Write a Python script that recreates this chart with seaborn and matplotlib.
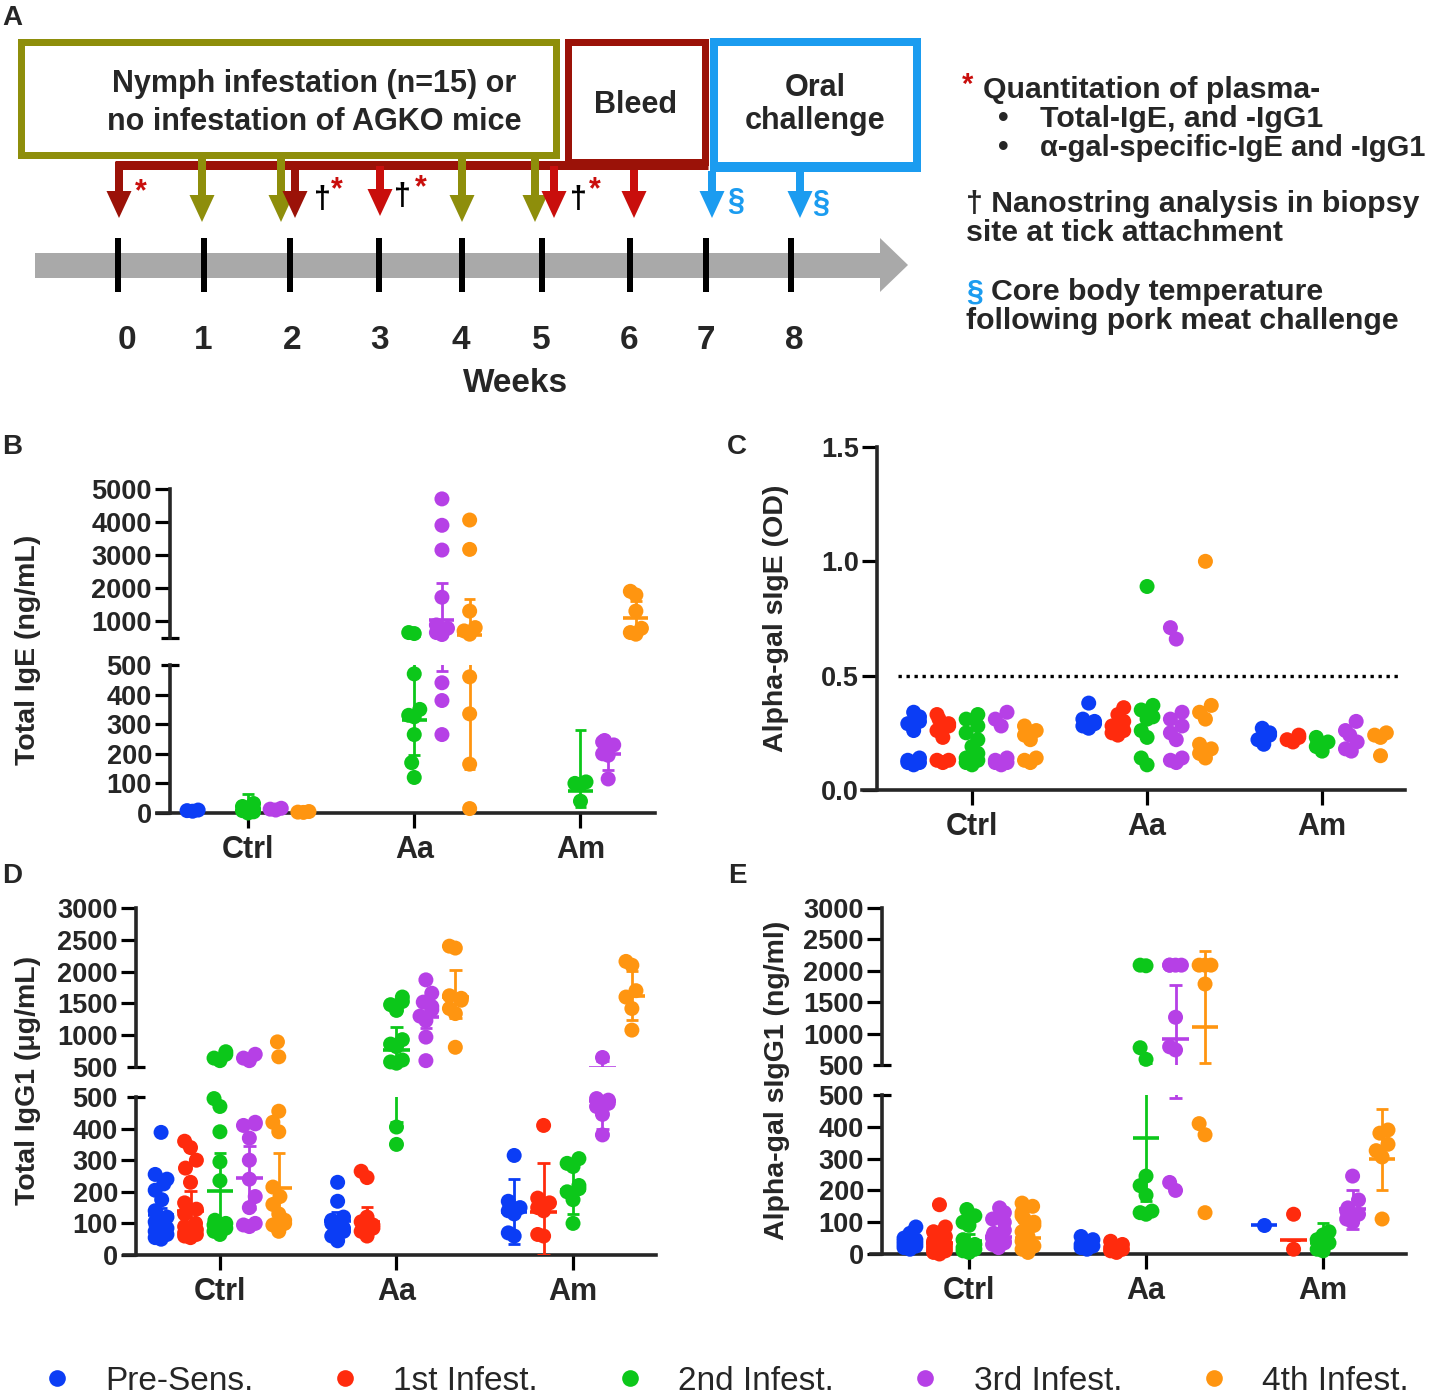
import warnings
warnings.filterwarnings("ignore")
import numpy as np
import pandas as pd
import matplotlib
matplotlib.use("Agg")
import matplotlib.pyplot as plt
from matplotlib.patches import Rectangle, Polygon, FancyArrow
from matplotlib.lines import Line2D
import seaborn as sns

# ---------------------------------------------------------------- data
GROUPS = ["Ctrl", "Aa", "Am"]
SERIES = ["Pre-Sens.", "1st Infest.", "2nd Infest.", "3rd Infest.", "4th Infest."]
COLORS = ["#0b3df5", "#ff2b0d", "#0cc71a", "#b640e6", "#ff9510"]

# Panel B : Total IgE (ng/mL)
IGE_PRE = {"Ctrl": [6, 8, 10], "Aa": [], "Am": []}
IGE_1ST = {"Ctrl": [], "Aa": [], "Am": []}
IGE_2ND = {"Ctrl": [0, 4, 8, 14, 22, 32],
           "Aa": [650, 620, 470, 350, 330, 325, 265, 170, 120],
           "Am": [105, 100, 95, 40]}
IGE_3RD = {"Ctrl": [10, 13, 16],
           "Aa": [4700, 3900, 3150, 1720, 880, 780, 650, 590, 440, 380, 265],
           "Am": [245, 240, 230, 200, 195, 115]}
IGE_4TH = {"Ctrl": [2, 3, 5],
           "Aa": [4060, 3170, 1300, 800, 700, 600, 460, 335, 165, 15],
           "Am": [1900, 1790, 1300, 780, 650, 600]}
IGE_BARS = [("Ctrl", "Pre-Sens.", 8, 8, 8), ("Ctrl", "2nd Infest.", 12, 0, 65),
            ("Ctrl", "3rd Infest.", 13, 13, 13), ("Ctrl", "4th Infest.", 3, 3, 3),
            ("Aa", "2nd Infest.", 315, 195, 520), ("Aa", "3rd Infest.", 1030, 480, 2150),
            ("Aa", "4th Infest.", 575, 150, 1670), ("Am", "2nd Infest.", 75, 20, 280),
            ("Am", "3rd Infest.", 198, 145, 250), ("Am", "4th Infest.", 1090, 630, 1600)]

# Panel C : Alpha-gal sIgE (OD)
SIGE_PRE = {"Ctrl": [0.34, 0.32, 0.30, 0.29, 0.26, 0.14, 0.13, 0.12, 0.11, 0.12],
            "Aa": [0.38, 0.31, 0.30, 0.29, 0.28, 0.27],
            "Am": [0.27, 0.25, 0.24, 0.22, 0.20]}
SIGE_1ST = {"Ctrl": [0.33, 0.31, 0.29, 0.28, 0.26, 0.23, 0.13, 0.12, 0.13],
            "Aa": [0.36, 0.33, 0.30, 0.28, 0.26, 0.25, 0.24],
            "Am": [0.24, 0.23, 0.22, 0.21]}
SIGE_2ND = {"Ctrl": [0.33, 0.31, 0.28, 0.25, 0.22, 0.19, 0.16, 0.14, 0.12, 0.11, 0.13],
            "Aa": [0.89, 0.37, 0.35, 0.32, 0.31, 0.26, 0.23, 0.14, 0.11],
            "Am": [0.23, 0.21, 0.19, 0.17]}
SIGE_3RD = {"Ctrl": [0.34, 0.31, 0.28, 0.14, 0.13, 0.12, 0.11, 0.12],
            "Aa": [0.71, 0.66, 0.34, 0.31, 0.28, 0.25, 0.22, 0.14, 0.13, 0.12],
            "Am": [0.30, 0.26, 0.24, 0.21, 0.18, 0.17]}
SIGE_4TH = {"Ctrl": [0.28, 0.26, 0.24, 0.22, 0.14, 0.13, 0.12],
            "Aa": [1.00, 0.37, 0.34, 0.31, 0.20, 0.18, 0.16, 0.14],
            "Am": [0.25, 0.24, 0.23, 0.15]}
SIGE_CUTOFF = 0.5

# Panel D : Total IgG1 (ug/mL)
IGG_PRE = {"Ctrl": [388, 255, 240, 225, 205, 175, 140, 120, 105, 95, 85, 75, 65, 55, 50],
           "Aa": [230, 170, 120, 110, 100, 95, 85, 75, 60, 45],
           "Am": [315, 170, 150, 140, 130, 70, 60]}
IGG_1ST = {"Ctrl": [360, 340, 300, 275, 230, 165, 145, 130, 100, 90, 80, 70, 65, 60, 55],
           "Aa": [265, 245, 120, 105, 95, 85, 75, 60],
           "Am": [410, 180, 165, 150, 140, 65, 60]}
IGG_2ND = {"Ctrl": [740, 700, 640, 600, 495, 470, 390, 295, 235, 110, 100, 95, 85, 75, 65],
           "Aa": [1600, 1530, 1480, 1390, 930, 860, 820, 610, 580, 560, 405, 350],
           "Am": [305, 290, 280, 220, 210, 200, 175, 100]}
IGG_3RD = {"Ctrl": [700, 640, 600, 420, 415, 410, 370, 300, 240, 185, 150, 100, 95, 90],
           "Aa": [1870, 1660, 1520, 1450, 1400, 1300, 1230, 970, 600],
           "Am": [665, 495, 490, 480, 470, 445, 380]}
IGG_4TH = {"Ctrl": [895, 660, 455, 420, 390, 215, 185, 160, 130, 110, 100, 95, 75],
           "Aa": [2400, 2370, 1620, 1580, 1550, 1420, 1340, 810],
           "Am": [2160, 2100, 1700, 1600, 1420, 1080]}
IGG_BARS = [("Ctrl", "Pre-Sens.", 127, 105, 150), ("Ctrl", "1st Infest.", 139, 76, 202),
            ("Ctrl", "2nd Infest.", 202, 85, 322), ("Ctrl", "3rd Infest.", 245, 145, 345),
            ("Ctrl", "4th Infest.", 213, 105, 322),
            ("Aa", "Pre-Sens.", 107, 80, 135), ("Aa", "1st Infest.", 105, 58, 152),
            ("Aa", "2nd Infest.", 775, 420, 1130), ("Aa", "3rd Infest.", 1290, 1110, 1470),
            ("Aa", "4th Infest.", 1600, 1265, 2030),
            ("Am", "Pre-Sens.", 137, 35, 242), ("Am", "1st Infest.", 137, 0, 290),
            ("Am", "2nd Infest.", 205, 130, 280), ("Am", "3rd Infest.", 486, 400, 600),
            ("Am", "4th Infest.", 1620, 1240, 2010)]

# Panel E : Alpha-gal sIgG1 (ng/ml)
SIGG_PRE = {"Ctrl": [85, 65, 50, 45, 40, 35, 30, 25, 20, 15],
            "Aa": [55, 45, 30, 25, 20, 15],
            "Am": [92]}
SIGG_1ST = {"Ctrl": [155, 85, 70, 55, 45, 40, 30, 25, 20, 15, 10, 5, 0],
            "Aa": [40, 30, 20, 15, 10, 5],
            "Am": [125, 15]}
SIGG_2ND = {"Ctrl": [140, 120, 100, 90, 45, 30, 20, 15, 10, 5],
            "Aa": [2090, 2080, 775, 590, 245, 215, 185, 135, 130, 125],
            "Am": [70, 60, 45, 35, 15, 10]}
SIGG_3RD = {"Ctrl": [145, 130, 110, 100, 75, 65, 55, 50, 40, 35, 30, 20],
            "Aa": [2090, 2090, 2090, 2090, 1260, 790, 740, 225, 200],
            "Am": [245, 170, 145, 135, 125, 110, 100]}
SIGG_4TH = {"Ctrl": [160, 150, 130, 120, 110, 100, 90, 70, 55, 40, 25, 15, 5],
            "Aa": [2090, 2090, 2090, 1790, 410, 375, 130],
            "Am": [390, 380, 345, 325, 305, 110]}
SIGG_BARS = [("Ctrl", "Pre-Sens.", 40, 30, 50), ("Ctrl", "1st Infest.", 35, 25, 45),
             ("Ctrl", "2nd Infest.", 42, 20, 62), ("Ctrl", "3rd Infest.", 55, 35, 80),
             ("Ctrl", "4th Infest.", 50, 30, 70),
             ("Aa", "2nd Infest.", 366, 168, 510), ("Aa", "3rd Infest.", 920, 490, 1770),
             ("Aa", "4th Infest.", 1105, 525, 2320),
             ("Am", "Pre-Sens.", 92, 92, 92), ("Am", "1st Infest.", 45, 45, 45),
             ("Am", "2nd Infest.", 35, 0, 97), ("Am", "3rd Infest.", 140, 80, 200),
             ("Am", "4th Infest.", 300, 200, 455)]

WEEKS = ["0", "1", "2", "3", "4", "5", "6", "7", "8"]

# ---------------------------------------------------------------- setup
W, H = 1433, 1394
sns.set_style("ticks")
plt.rcParams['font.family'] = ['Liberation Sans', 'DejaVu Sans']
plt.rcParams['axes.linewidth'] = 2.6

fig = plt.figure(figsize=(W / 100, H / 100), dpi=100)
fig.patch.set_facecolor("white")

ax_bg = fig.add_axes([0, 0, 1, 1])
ax_bg.set_xlim(0, W)
ax_bg.set_ylim(H, 0)
ax_bg.axis("off")
ax_bg.set_zorder(-1)

# categorical slots: each series occupies every second slot, groups 12 slots apart
SLOT_SERIES = 2
SLOT_GROUP = 12
n_slots = SLOT_GROUP * (len(GROUPS) - 1) + SLOT_SERIES * (len(SERIES) - 1) + 1
ORDER = [f"gap{i}" for i in range(n_slots)]
for gi, g in enumerate(GROUPS):
    for si, s in enumerate(SERIES):
        ORDER[gi * SLOT_GROUP + si * SLOT_SERIES] = f"{g}|{s}"
XT = [ORDER.index(f"{g}|{SERIES[2]}") for g in GROUPS]


def long_df(dicts):
    rows = []
    for s, d in zip(SERIES, dicts):
        for g in GROUPS:
            for v in d[g]:
                rows.append((f"{g}|{s}", s, v))
    return pd.DataFrame(rows, columns=["cat", "series", "val"])


def add_ax(x0, x1, ytop, ybot):
    ax = fig.add_axes([x0 / W, 1 - ybot / H, (x1 - x0) / W, (ybot - ytop) / H])
    ax.set_facecolor("none")
    return ax


def style_ax(ax, xlim, ylim, yticks, ylabels, bottom, off_px, hide_ticks=()):
    ax.set_xlim(*xlim)
    ax.set_ylim(*ylim)
    for s in ["top", "right"]:
        ax.spines[s].set_visible(False)
    ax.spines["left"].set_position(("outward", -off_px * 0.72))
    ax.spines["left"].set_linewidth(2.6)
    if bottom:
        ax.spines["bottom"].set_linewidth(2.6)
        ax.set_xticks(XT)
        ax.set_xticklabels(GROUPS)
    else:
        ax.spines["bottom"].set_visible(False)
        ax.set_xticks([])
    ax.set_yticks(yticks)
    ax.set_yticklabels(ylabels)
    ax.tick_params(axis="both", length=11, width=2.3, direction="out", color="k")
    ax.tick_params(axis="y", labelsize=19.5, pad=2)
    ax.tick_params(axis="x", labelsize=22, pad=5)
    for lab in ax.get_xticklabels() + ax.get_yticklabels():
        lab.set_fontweight("bold")
    for t, loc in zip(ax.yaxis.get_major_ticks(), yticks):
        if loc in hide_ticks:
            t.tick1line.set_visible(False)
    ax.set_xlabel("")
    ax.set_ylabel("")


def break_cap(ax, yval, off_px, axw_px):
    tr = ax.get_yaxis_transform()
    ax.plot([(off_px - 9) / axw_px, (off_px + 9) / axw_px], [yval, yval],
            transform=tr, color="k", lw=2.3, clip_on=False, solid_capstyle="butt")


def swarm(ax, df):
    sns.swarmplot(data=df, x="cat", y="val", hue="series", order=ORDER,
                  hue_order=SERIES, palette=COLORS, size=10.8, linewidth=0,
                  ax=ax, legend=False, clip_on=False, zorder=3)


def bars(ax, table):
    for g, s, m, lo, hi in table:
        x = ORDER.index(f"{g}|{s}")
        c = COLORS[SERIES.index(s)]
        ax.vlines(x, lo, hi, color=c, lw=2.0, zorder=5)
        ax.hlines([lo, hi], x - 0.42, x + 0.42, color=c, lw=2.0, zorder=5)
        ax.hlines(m, x - 0.9, x + 0.9, color=c, lw=2.6, zorder=5)


def broken_panel(dicts, table, x0, x1, off, lower_px, upper_px, lower_lim, upper_lim,
                 lower_ticks, upper_ticks, upper_labels, xlim):
    df = long_df(dicts)
    brk = lower_lim[1]
    axl = add_ax(x0, x1, *lower_px)
    axu = add_ax(x0, x1, *upper_px)
    swarm(axl, df[df.val <= brk])
    swarm(axu, df[df.val > brk])
    bars(axl, table)
    bars(axu, table)
    style_ax(axl, xlim, lower_lim, lower_ticks, [str(t) for t in lower_ticks], True, off,
             hide_ticks=(brk,))
    style_ax(axu, xlim, upper_lim, upper_ticks, upper_labels, False, off,
             hide_ticks=(brk,))
    break_cap(axl, brk, off, x1 - x0)
    break_cap(axu, brk, off, x1 - x0)
    return axl, axu


# ---------------------------------------------------------------- panel B
broken_panel([IGE_PRE, IGE_1ST, IGE_2ND, IGE_3RD, IGE_4TH], IGE_BARS,
             157, 655, 13, (665, 813), (489, 637.5), (0, 500), (500, 5000),
             [0, 100, 200, 300, 400, 500], [500, 1000, 2000, 3000, 4000, 5000],
             ["", "1000", "2000", "3000", "4000", "5000"], (-2.57, 33.38))

# ---------------------------------------------------------------- panel C
axc = add_ax(862, 1405, 447, 790)
swarm(axc, long_df([SIGE_PRE, SIGE_1ST, SIGE_2ND, SIGE_3RD, SIGE_4TH]))
axc.axhline(SIGE_CUTOFF, xmin=0.066, xmax=0.99, color="k", ls=(0, (1, 1.4)), lw=2.4, zorder=2)
style_ax(axc, (-3.54, 33.68), (0, 1.5), [0, 0.5, 1.0, 1.5], ["0.0", "0.5", "1.0", "1.5"],
         True, 15)

# ---------------------------------------------------------------- panel D
broken_panel([IGG_PRE, IGG_1ST, IGG_2ND, IGG_3RD, IGG_4TH], IGG_BARS,
             124, 656, 12, (1097, 1255), (908, 1067), (0, 500), (500, 3000),
             [0, 100, 200, 300, 400, 500], [500, 1000, 1500, 2000, 2500, 3000],
             ["500", "1000", "1500", "2000", "2500", "3000"], (-2.52, 33.64))

# ---------------------------------------------------------------- panel E
broken_panel([SIGG_PRE, SIGG_1ST, SIGG_2ND, SIGG_3RD, SIGG_4TH], SIGG_BARS,
             871, 1406, 11, (1095, 1254), (908, 1065), (0, 500), (500, 3000),
             [0, 100, 200, 300, 400, 500], [500, 1000, 1500, 2000, 2500, 3000],
             ["500", "1000", "1500", "2000", "2500", "3000"], (-2.64, 33.62))

# ---------------------------------------------------------------- labels
def ftext(x, y, s, **kw):
    fig.text(x / W, 1 - y / H, s, **kw)

for lab, x, y in [("A", 2, 18), ("B", 2, 447), ("C", 727, 447), ("D", 2, 876), ("E", 728, 876)]:
    ftext(x, y, lab, fontsize=20, fontweight="bold", ha="left", va="center")

for lab, x, y in [("Total IgE (ng/mL)", 28, 650), ("Alpha-gal sIgE (OD)", 776, 618),
                  ("Total IgG1 (\u03bcg/mL)", 28, 1080), ("Alpha-gal sIgG1 (ng/ml)", 777, 1080)]:
    ftext(x, y, lab, fontsize=20.5, fontweight="bold", rotation=90, ha="center", va="center")

handles = [Line2D([], [], marker="o", ls="", color=c, markersize=12, markeredgewidth=0)
           for c in COLORS]
fig.legend(handles, SERIES, ncol=5, loc="center left",
           bbox_to_anchor=(40 / W, 1 - 1381 / H), frameon=False, fontsize=24,
           handlelength=1.0, handletextpad=0.95, columnspacing=2.25,
           borderaxespad=0, borderpad=0)

# ---------------------------------------------------------------- panel A schematic
OLIVE = "#8e8e0b"
DRED = "#9b1208"
RED = "#c90e0c"
LBLUE = "#1b9cf0"
GRAY = "#a9a9a9"
PX = 0.72

ax_bg.plot([115, 708], [165, 165], color=DRED, lw=9 * PX, solid_capstyle="butt", zorder=1)
ax_bg.add_patch(Rectangle((21.5, 41.5), 535, 113, fill=False, ec=OLIVE, lw=7 * PX, zorder=2))
ax_bg.add_patch(Rectangle((568, 42), 137, 120, fill=False, ec=DRED, lw=7 * PX, zorder=2))
ax_bg.add_patch(Rectangle((714, 42), 203, 124, fill=False, ec=LBLUE, lw=8 * PX, zorder=2))
ax_bg.plot([710, 921], [167, 167], color=LBLUE, lw=10 * PX, solid_capstyle="butt", zorder=2)

ARROWS = [(119, 162, 218, DRED), (202, 156, 222, OLIVE), (281, 156, 222, OLIVE),
          (295, 166, 218, DRED), (380, 166, 216, RED), (462, 156, 222, OLIVE),
          (535, 156, 222, OLIVE), (554, 166, 218, RED), (634, 170, 218, RED),
          (712, 171, 218, LBLUE), (800, 171, 218, LBLUE)]
for x, y0, y1, c in ARROWS:
    ax_bg.add_patch(FancyArrow(x, y0, 0, y1 - y0, width=8, head_width=25, head_length=27,
                               length_includes_head=True, color=c, lw=0, zorder=3))

for s, x, y, c in [("*", 141, 192, RED), ("\u2020", 322, 200, "k"), ("*", 337, 190, RED),
                   ("\u2020", 402, 197, "k"), ("*", 421, 188, RED),
                   ("\u2020", 578, 200, "k"), ("*", 595, 190, RED),
                   ("\u00a7", 736, 202, LBLUE), ("\u00a7", 821, 204, LBLUE)]:
    ax_bg.text(x, y, s, color=c, fontsize=22, fontweight="bold", ha="center", va="center")

ax_bg.add_patch(Rectangle((35, 253), 845, 25, color=GRAY, lw=0))
ax_bg.add_patch(Polygon([[880, 238], [908, 265], [880, 292]], closed=True, color=GRAY, lw=0))
TICK_X = [118, 204, 290, 379, 462, 542, 630, 706, 791]
LABEL_X = [127, 203, 292, 380, 461, 541, 629, 706, 794]
for tx, lx, w in zip(TICK_X, LABEL_X, WEEKS):
    ax_bg.plot([tx, tx], [238, 292], color="k", lw=6 * PX, solid_capstyle="butt", zorder=3)
    ax_bg.text(lx, 349, w, fontsize=24, fontweight="bold", ha="center", va="baseline")
ax_bg.text(516, 392, "Weeks", fontsize=24, fontweight="bold", ha="center", va="baseline")

for s, x, y in [("Nymph infestation (n=15) or", 314, 92), ("no infestation of AGKO mice", 314, 130),
                ("Bleed", 636, 113), ("Oral", 815, 96), ("challenge", 815, 129)]:
    ax_bg.text(x, y, s, fontsize=22, fontweight="bold", ha="center", va="baseline")

ax_bg.text(968, 93, "*", color=RED, fontsize=21, fontweight="bold", ha="center", va="baseline")
for s, x, y, fs in [("Quantitation of plasma-", 983, 98, 21.8), ("\u2022", 998, 127, 21.8),
                    ("Total-IgE, and -IgG1", 1040, 127, 21.8), ("\u2022", 998, 156, 21.8),
                    ("\u03b1-gal-specific-IgE and -IgG1", 1040, 156, 21),
                    ("\u2020 Nanostring analysis in biopsy", 966, 212, 21.8),
                    ("site at tick attachment", 966, 241, 21.8),
                    ("Core body temperature", 991, 300, 21.8),
                    ("following pork meat challenge", 966, 329, 21.8)]:
    ax_bg.text(x, y, s, fontsize=fs, fontweight="bold", ha="left", va="baseline")
ax_bg.text(966, 300, "\u00a7", color=LBLUE, fontsize=21.8, fontweight="bold", ha="left", va="baseline")

fig.savefig("out.png", dpi=100, facecolor="white")
